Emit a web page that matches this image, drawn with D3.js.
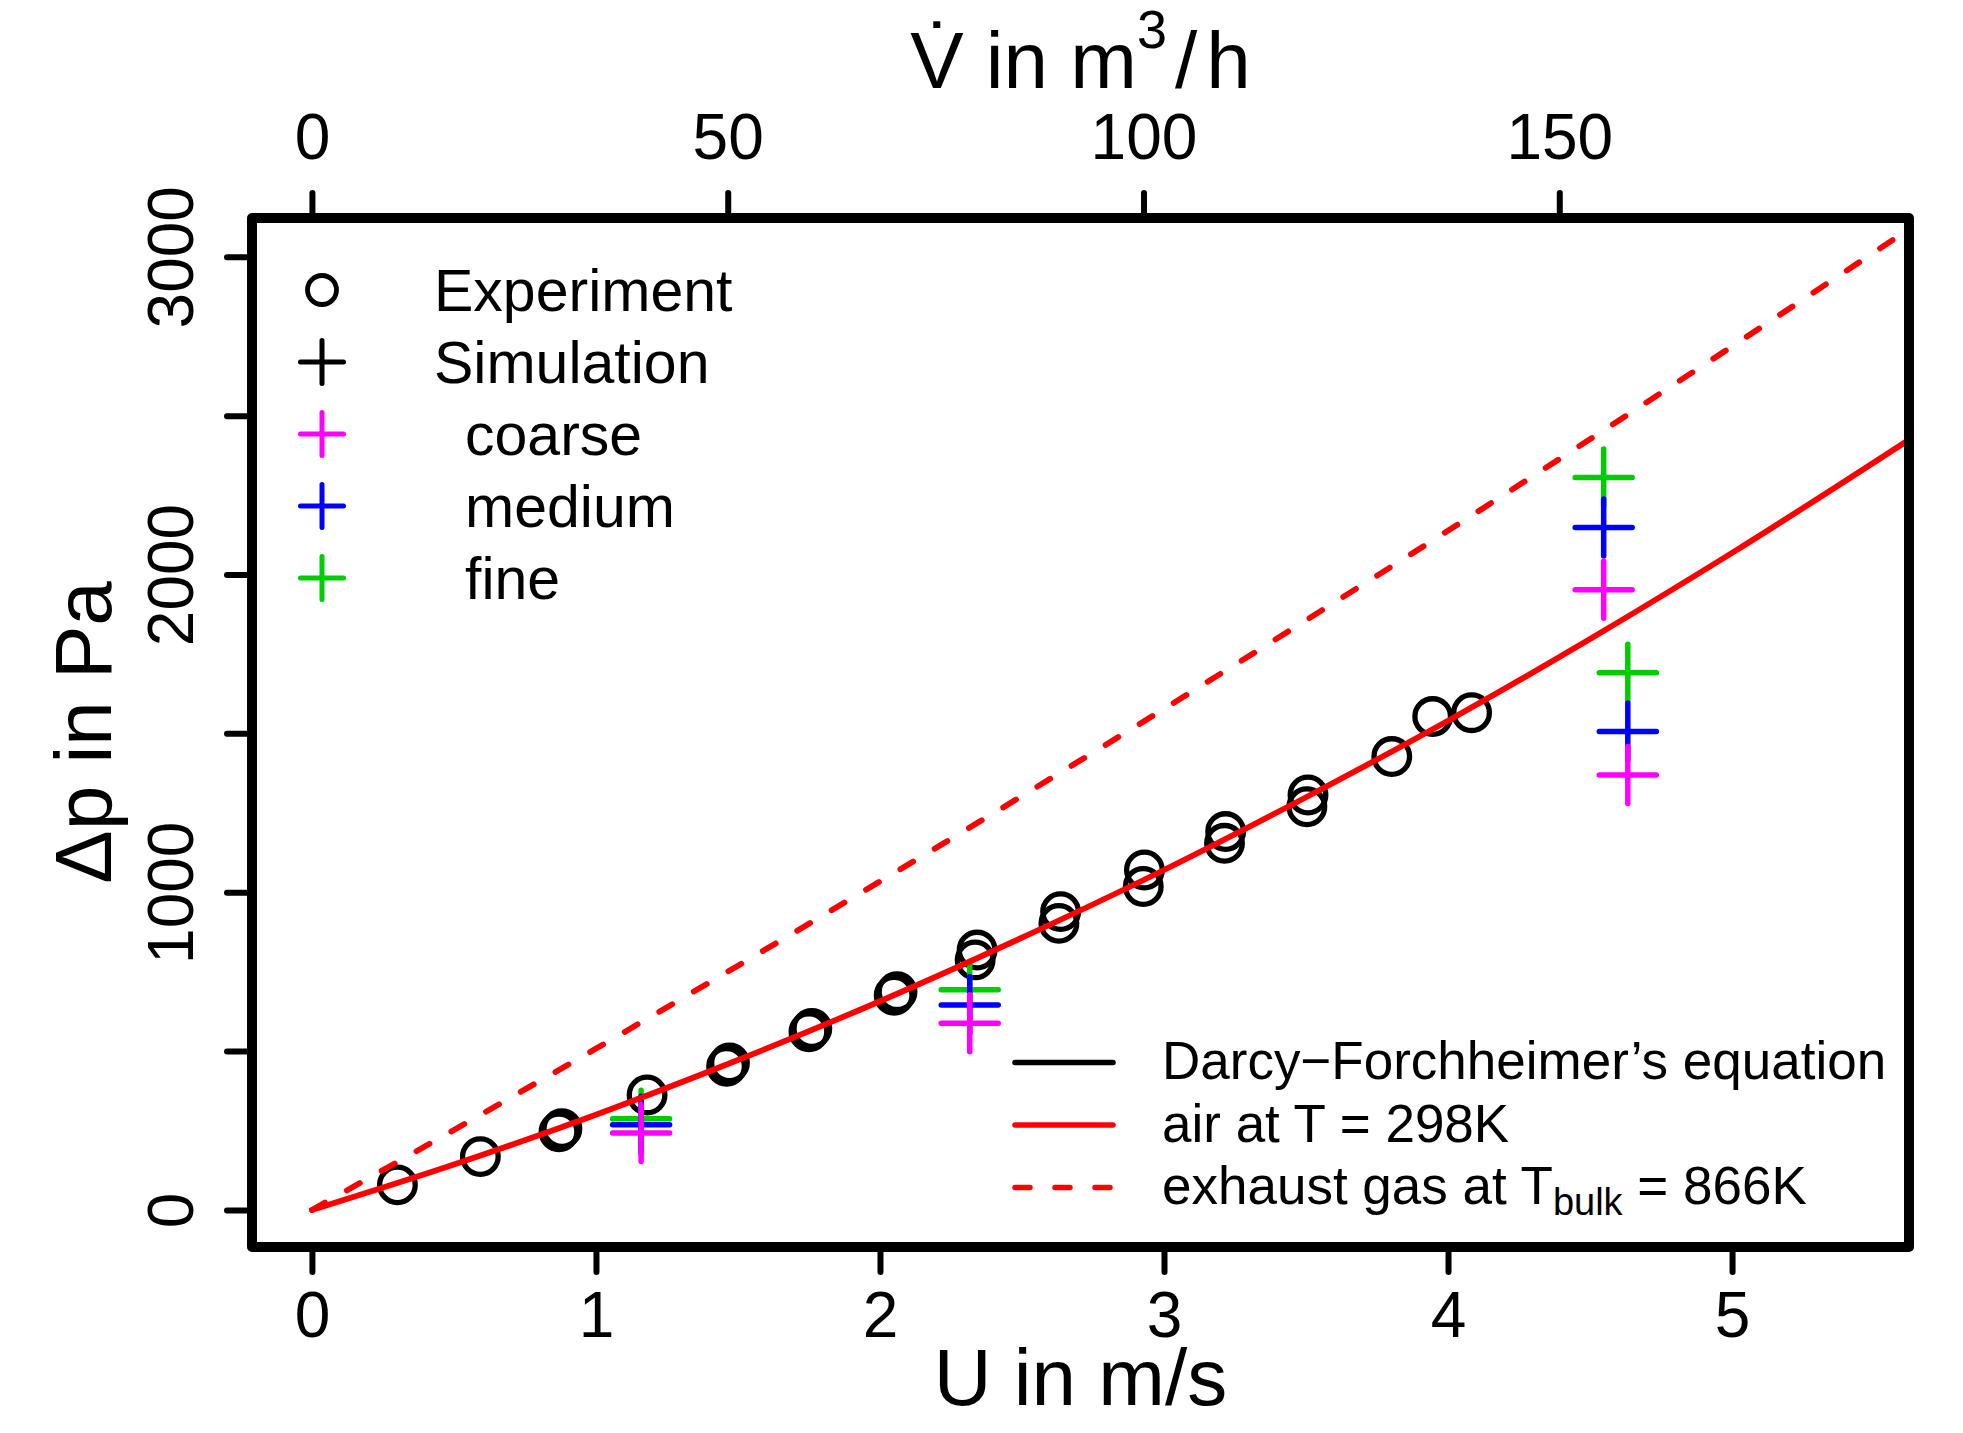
<!DOCTYPE html>
<html>
<head>
<meta charset="utf-8">
<script src="https://cdn.jsdelivr.net/npm/d3@7"></script>
<style>
body { margin: 0; background: #fff; }
text { font-family: "Liberation Sans", Arial, Helvetica, sans-serif; fill: #000; }
</style>
</head>
<body>
<script>
// experiment: superficial velocity U in m/s and pressure drop in Pa
var expU = [0.301, 0.593, 0.870, 0.880, 1.180, 1.460, 1.470, 1.750, 1.760, 2.050, 2.060,
            2.335, 2.342, 2.630, 2.636, 2.927, 2.931, 3.213, 3.217, 3.503, 3.507, 3.802, 3.946, 4.083];
var expP = [79, 168, 246, 256, 362, 452, 463, 561, 571, 676, 687,
            787, 818, 902, 939, 1018, 1070, 1154, 1191, 1269, 1306, 1427, 1553, 1565];

// simulations on three meshes
var simU = [1.159, 2.316, 4.548, 4.633];
var simCoarse = [242, 588, 1952, 1369];
var simMedium = [268, 645, 2148, 1506];
var simFine = [287, 693, 2305, 1691];

// Darcy-Forchheimer curves
var curveU = [0, 0.5, 1.0, 1.5, 2.0, 2.5, 3.0, 3.5, 4.0, 4.5, 5.0, 5.65];
var airP = [0, 143, 300, 472, 657, 857, 1070, 1299, 1540, 1797, 2068, 2440];
var exhaustP = [0, 252, 508, 769, 1034, 1303, 1577, 1856, 2138, 2426, 2718, 3103];

// axes
var uTicks = [0, 1, 2, 3, 4, 5];
var pTicks = [0, 500, 1000, 1500, 2000, 2500, 3000];
var pLabels = [0, 1000, 2000, 3000];
var vTicks = [0, 50, 100, 150];
var vPerU = 34.155; // m3/h per m/s

var W = 1963, H = 1433;
var boxL = 252, boxR = 1909, boxT = 218, boxB = 1247;
var font = "Liberation Sans, Arial, Helvetica, sans-serif";

var svg = d3.select("body").append("svg")
    .attr("width", W)
    .attr("height", H);

var x = d3.scaleLinear().domain([-0.211, 5.623]).range([boxL, boxR]);
var y = d3.scaleLinear().domain([-116.5, 3122]).range([boxB, boxT]);
var xTop = d3.scaleLinear()
    .domain(x.domain().map(function (d) { return d * vPerU; }))
    .range([boxL, boxR]);

svg.append("clipPath").attr("id", "plotArea")
  .append("rect")
    .attr("x", boxL).attr("y", boxT)
    .attr("width", boxR - boxL).attr("height", boxB - boxT);

function styleAxis(g) {
    g.attr("font-family", font).attr("font-size", 64);
    g.select(".domain").remove();
    g.selectAll(".tick line")
        .attr("stroke", "#000")
        .attr("stroke-width", 6)
        .attr("stroke-linecap", "round");
}

// bottom axis
svg.append("g")
    .attr("transform", "translate(0," + boxB + ")")
    .call(d3.axisBottom(x).tickValues(uTicks).tickSize(25).tickFormat(d3.format("d")))
    .call(styleAxis)
    .call(function (g) { g.selectAll("text").attr("y", 90).attr("dy", 0); });

// top axis (volume flow)
svg.append("g")
    .attr("transform", "translate(0," + boxT + ")")
    .call(d3.axisTop(xTop).tickValues(vTicks).tickSize(25).tickFormat(d3.format("d")))
    .call(styleAxis)
    .call(function (g) { g.selectAll("text").attr("y", -59).attr("dy", 0); });

// left axis, labels parallel to the axis
svg.append("g")
    .attr("transform", "translate(" + boxL + ",0)")
    .call(d3.axisLeft(y).tickValues(pTicks).tickSize(25)
        .tickFormat(function (d) { return pLabels.indexOf(d) >= 0 ? d : ""; }))
    .call(styleAxis)
    .call(function (g) {
        g.selectAll("text")
            .attr("transform", "rotate(-90)")
            .attr("x", 0)
            .attr("y", -59)
            .attr("dy", 0)
            .attr("text-anchor", "middle");
    });

// axis titles
svg.append("text")
    .attr("x", (boxL + boxR) / 2)
    .attr("y", 1405)
    .attr("text-anchor", "middle")
    .style("font-size", "80px")
    .text("U in m/s");

svg.append("text")
    .attr("transform", "translate(111," + (boxT + boxB) / 2 + ") rotate(-90)")
    .attr("text-anchor", "middle")
    .style("font-size", "80px")
    .text("Δp in Pa");

var topTitle = svg.append("text")
    .attr("x", (boxL + boxR) / 2)
    .attr("y", 88)
    .attr("text-anchor", "middle")
    .style("font-size", "80px");
topTitle.append("tspan").text("V\u0307 in m");
topTitle.append("tspan").attr("dy", -40).style("font-size", "54px").text("3");
topTitle.append("tspan").attr("dy", 40).attr("dx", 8).text("/");
topTitle.append("tspan").attr("dx", 9).text("h");

// experiment points
svg.append("g")
  .selectAll("circle")
  .data(d3.zip(expU, expP))
  .enter().append("circle")
    .attr("cx", function (d) { return x(d[0]); })
    .attr("cy", function (d) { return y(d[1]); })
    .attr("r", 17.8)
    .attr("fill", "none")
    .attr("stroke", "#000")
    .attr("stroke-width", 5.3);

// simulation crosses
function plus(h) {
    return "M" + (-h) + ",0H" + h + "M0," + (-h) + "V" + h;
}
var sims = [
    { values: simFine, color: "#00CD00" },
    { values: simMedium, color: "#0000FF" },
    { values: simCoarse, color: "#FF00FF" }
];
sims.forEach(function (s) {
    svg.append("g")
      .selectAll("path")
      .data(d3.zip(simU, s.values))
      .enter().append("path")
        .attr("transform", function (d) { return "translate(" + x(d[0]) + "," + y(d[1]) + ")"; })
        .attr("d", plus(28.5))
        .attr("stroke", s.color)
        .attr("stroke-width", 5.5)
        .attr("stroke-linecap", "round");
});

// model curves
var curve = function (vals) {
    return d3.line()
        .x(function (d) { return x(d[0]); })
        .y(function (d) { return y(d[1]); })
        .curve(d3.curveMonotoneX)(d3.zip(curveU, vals));
};

svg.append("path")
    .attr("clip-path", "url(#plotArea)")
    .attr("d", curve(airP))
    .attr("fill", "none")
    .attr("stroke", "#FF0000")
    .attr("stroke-width", 5.8)
    .attr("stroke-linecap", "round");

svg.append("path")
    .attr("clip-path", "url(#plotArea)")
    .attr("d", curve(exhaustP))
    .attr("fill", "none")
    .attr("stroke", "#FF0000")
    .attr("stroke-width", 5.8)
    .attr("stroke-dasharray", "15 25")
    .attr("stroke-linecap", "round");

// frame
svg.append("rect")
    .attr("x", boxL).attr("y", boxT)
    .attr("width", boxR - boxL).attr("height", boxB - boxT)
    .attr("fill", "none")
    .attr("stroke", "#000")
    .attr("stroke-width", 10)
    .attr("stroke-linejoin", "round");

// legend top left
var legX = 322;
var leg1 = [
    { label: "Experiment", sym: "circle", color: "#000", indent: 0 },
    { label: "Simulation", sym: "plus", color: "#000", indent: 0 },
    { label: "coarse", sym: "plus", color: "#FF00FF", indent: 31 },
    { label: "medium", sym: "plus", color: "#0000FF", indent: 31 },
    { label: "fine", sym: "plus", color: "#00CD00", indent: 31 }
];
leg1.forEach(function (d, i) {
    var ry = 290 + i * 72;
    if (d.sym === "circle") {
        svg.append("circle")
            .attr("cx", legX).attr("cy", ry).attr("r", 14.5)
            .attr("fill", "none").attr("stroke", d.color).attr("stroke-width", 4.8);
    } else {
        svg.append("path")
            .attr("transform", "translate(" + legX + "," + ry + ")")
            .attr("d", plus(21.5))
            .attr("stroke", d.color).attr("stroke-width", 5)
            .attr("stroke-linecap", "round");
    }
    svg.append("text")
        .attr("x", 434 + d.indent)
        .attr("y", ry + 21)
        .style("font-size", "59px")
        .text(d.label);
});

// legend bottom right
var leg2 = [
    { color: "#000", dash: null },
    { color: "#FF0000", dash: null },
    { color: "#FF0000", dash: "15 25" }
];
leg2.forEach(function (d, i) {
    var ry = 1062.5 + i * 62.5;
    svg.append("line")
        .attr("x1", 1015).attr("x2", 1113)
        .attr("y1", ry).attr("y2", ry)
        .attr("stroke", d.color)
        .attr("stroke-width", 5.5)
        .attr("stroke-linecap", "round")
        .attr("stroke-dasharray", d.dash);
});

svg.append("text")
    .attr("x", 1162).attr("y", 1062.5 + 16)
    .style("font-size", "53px")
    .text("Darcy\u2212Forchheimer\u2019s equation");

svg.append("text")
    .attr("x", 1162).attr("y", 1125 + 17)
    .style("font-size", "53px")
    .text("air at T = 298K");

var t3 = svg.append("text")
    .attr("x", 1162).attr("y", 1187.5 + 16)
    .style("font-size", "53px");
t3.append("tspan").text("exhaust gas at T");
t3.append("tspan").attr("dy", 11).style("font-size", "38px").text("bulk");
t3.append("tspan").attr("dy", -11).text(" = 866K");
</script>
</body>
</html>
